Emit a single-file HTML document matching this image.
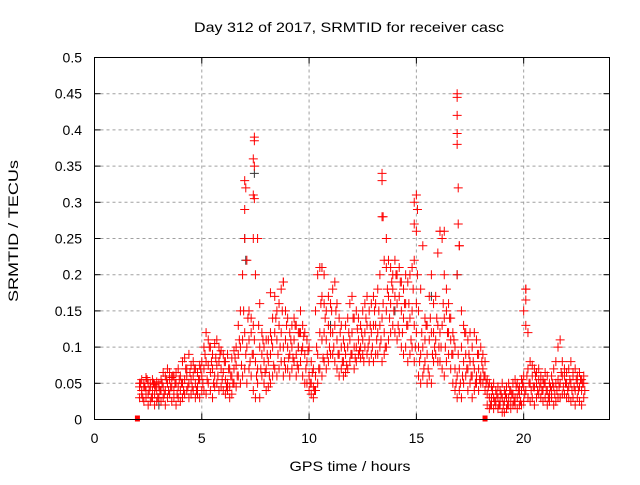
<!DOCTYPE html>
<html><head><meta charset="utf-8"><style>
body{margin:0;background:#fff;}
svg text{font-family:"Liberation Sans",sans-serif;fill:#000;}
</style></head><body>
<svg id="chart" width="640" height="480" viewBox="0 0 640 480">
<text x="349" y="32" font-size="14" text-anchor="middle" textLength="310" lengthAdjust="spacingAndGlyphs">Day 312 of 2017, SRMTID for receiver casc</text>
<text x="0" y="0" font-size="14" text-anchor="middle" textLength="142" lengthAdjust="spacingAndGlyphs" transform="translate(18,231) rotate(-90)">SRMTID / TECUs</text>
<text x="350" y="471" font-size="14" text-anchor="middle" textLength="121" lengthAdjust="spacingAndGlyphs">GPS time / hours</text>
<g id="grid"></g><g id="ticks"></g><g id="marks"></g>
<rect x="94.5" y="57.5" width="515" height="362" fill="none" stroke="#000" stroke-width="1"/>
</svg>
<script>
const xTicks=[0,5,10,15,20];
const yTicks=[0,0.05,0.1,0.15,0.2,0.25,0.3,0.35,0.4,0.45,0.5];
const yTickLabels=["0","0.05","0.1","0.15","0.2","0.25","0.3","0.35","0.4","0.45","0.5"];
const tStart=2.1, tStep=0.1;
const lo=[.03,.035,.025,.03,.02,.025,.03,.02,.025,.03,
.025,.03,.02,.03,.035,.025,.03,.02,.03,.025,
.03,.035,.04,.03,.035,.04,.03,.035,.03,.04,
.04,.035,.05,.04,.03,.045,.05,.04,.045,.04,
.035,.04,.03,.035,.05,.045,.06,.05,.06,.07,
.05,.07,.06,.04,.03,.05,.03,.06,.05,.04,
.045,.05,.06,.07,.06,.07,.08,.06,.07,.07,
.06,.07,.08,.06,.07,.08,.06,.05,.05,.04,
.035,.03,.04,.05,.07,.06,.08,.07,.08,.09,
.09,.08,.07,.06,.07,.06,.065,.07,.08,.09,
.07,.08,.09,.085,.09,.1,.09,.08,.09,.08,
.09,.09,.1,.08,.09,.1,.11,.12,.13,.12,
.11,.12,.1,.09,.1,.08,.09,.1,.08,.12,
.06,.05,.06,.08,.05,.06,.05,.08,.09,.08,
.08,.07,.06,.08,.09,.07,.05,.04,.03,.04,
.03,.05,.06,.04,.05,.03,.04,.05,.04,.05,
.05,.04,.02,.015,.02,.015,.02,.015,.02,.01,
.01,.015,.02,.015,.02,.02,.015,.02,.02,.025,
.04,.03,.025,.03,.02,.03,.035,.03,.025,.03,
.02,.025,.03,.02,.025,.03,.03,.035,.035,.03,
.03,.025,.03,.02,.03,.025,.02,.03];
const mid=[.045,.04,.05,.04,.035,.045,.04,.035,.04,.045,
.04,.045,.04,.05,.055,.045,.04,.05,.045,.04,
.05,.055,.06,.05,.055,.06,.05,.045,.055,.06,
.07,.08,.075,.065,.07,.06,.075,.08,.07,.065,
.055,.05,.045,.06,.07,.075,.09,.1,.11,.12,
.1,.11,.12,.09,.08,.07,.1,.09,.08,.07,
.08,.09,.1,.12,.11,.13,.12,.1,.11,.1,
.09,.1,.11,.09,.1,.12,.1,.09,.08,.06,
.05,.045,.06,.09,.12,.11,.12,.11,.13,.12,
.12,.13,.11,.09,.1,.08,.09,.1,.11,.12,
.1,.1,.11,.1,.11,.12,.13,.11,.12,.13,
.13,.12,.13,.14,.12,.15,.17,.16,.18,.17,
.16,.17,.15,.14,.16,.13,.14,.15,.13,.16,
.1,.09,.1,.11,.09,.11,.12,.12,.11,.13,
.12,.13,.14,.15,.12,.11,.09,.07,.06,.07,
.1,.08,.09,.07,.08,.06,.07,.06,.07,.06,
.07,.06,.035,.03,.03,.03,.025,.03,.025,.03,
.025,.03,.03,.025,.035,.03,.03,.035,.04,.045,
.13,.07,.05,.06,.045,.05,.055,.05,.04,.05,
.04,.035,.04,.045,.05,.055,.05,.06,.06,.05,
.045,.05,.06,.04,.05,.045,.04,.05];
const hi=[.05,.055,.045,.058,.05,.05,.055,.048,.052,.05,
.055,.065,.06,.07,.065,.058,.06,.065,.07,.06,
.08,.085,.07,.09,.075,.08,.07,.065,.075,.08,
.1,.12,.11,.1,.09,.105,.11,.1,.095,.09,
.08,.09,.07,.085,.095,.1,.13,.15,.2,.25,
.22,.15,.14,.13,.2,.25,.16,.12,.1,.11,
.11,.12,.14,.17,.15,.16,.18,.19,.15,.14,
.12,.13,.14,.13,.12,.15,.13,.12,.11,.1,
.08,.07,.15,.2,.21,.17,.16,.15,.17,.16,
.18,.19,.16,.14,.13,.11,.13,.14,.16,.17,
.14,.15,.14,.13,.15,.16,.17,.15,.16,.17,
.16,.18,.2,.28,.22,.21,.22,.21,.2,.22,
.2,.21,.19,.18,.2,.19,.2,.21,.22,.26,
.15,.18,.24,.14,.13,.17,.2,.16,.17,.23,
.26,.25,.2,.18,.16,.14,.12,.1,.2,.24,
.15,.13,.12,.11,.12,.1,.12,.11,.09,.1,
.09,.08,.055,.05,.045,.05,.04,.045,.04,.05,
.04,.045,.05,.04,.05,.055,.05,.045,.055,.06,
.18,.12,.08,.075,.07,.065,.07,.06,.055,.065,
.06,.05,.06,.07,.08,.1,.11,.08,.07,.065,
.07,.08,.065,.07,.06,.065,.055,.06];
const half=[.05,.03,.045,.055,.04,.03,.05,.045,.03,.04,
.05,.035,.055,.04,.045,.06,.05,.035,.055,.05,
.04,.07,.045,.065,.045,.07,.04,.055,.07,.05,
.09,.055,.1,.08,.05,.085,.06,.09,.055,.08,
.045,.07,.06,.05,.085,.06,.11,.075,.15,.09,
.14,.08,.09,.11,.06,.13,.07,.11,.065,.09,
.06,.11,.075,.14,.09,.1,.15,.08,.13,.085,
.11,.085,.13,.075,.12,.095,.115,.07,.095,.05,
.065,.04,.1,.07,.16,.085,.14,.09,.1,.15,
.1,.15,.09,.12,.08,.1,.075,.12,.09,.14,
.085,.125,.095,.12,.08,.14,.1,.13,.1,.15,
.11,.15,.11,.16,.1,.18,.14,.19,.15,.2,
.13,.19,.12,.16,.13,.16,.11,.18,.1,.2,
.08,.12,.07,.13,.07,.14,.09,.1,.14,.1,
.1,.16,.1,.12,.14,.09,.11,.05,.09,.05,
.06,.12,.07,.09,.06,.08,.05,.09,.055,.08,
.06,.05,.045,.02,.04,.025,.035,.02,.035,.02,
.035,.02,.04,.035,.025,.045,.04,.025,.05,.035,
.06,.05,.04,.045,.06,.04,.045,.04,.05,.04,
.03,.045,.05,.035,.04,.045,.065,.045,.05,.04,
.055,.04,.045,.055,.04,.055,.05,.04];
const spikeTimes=[7.0,7.05,7.0,7.45,7.45,7.4,7.45,7.4,7.45,7.4,13.4,13.4,13.45,13.6,15.0,14.9,15.05,14.9,16.9,16.9,16.9,16.9,16.9,16.95,16.95,17.0,16.3,16.1,20.1,20.1,20.0,8.8,8.2,10.7,10.6];
const spikeValues=[.33,.32,.29,.39,.385,.36,.35,.31,.305,.25,.34,.33,.28,.25,.31,.30,.29,.27,.45,.445,.42,.395,.38,.32,.27,.24,.26,.26,.18,.165,.15,.19,.175,.2,.21];
const blackTimes=[7.0,7.05,7.45,10.6,16.9,15.7,11.0,14.0,9.5,3.0];
const blackValues=[.25,.22,.34,.21,.2,.17,.13,.15,.1,.02];
const gapTimes=[2.0,18.2];

const X=t=>94.5+t*(515/24);
const Y=v=>419.5-v*(362/0.5);
const NS="http://www.w3.org/2000/svg";
const grid=document.getElementById('grid'),ticks=document.getElementById('ticks'),marks=document.getElementById('marks');
function mk(tag,attrs,parent){const e=document.createElementNS(NS,tag);for(const k in attrs)e.setAttribute(k,attrs[k]);parent.appendChild(e);return e;}
xTicks.forEach(t=>{
  const x=X(t);
  if(t>0){const g=mk('line',{x1:x,y1:57.5,x2:x,y2:419.5,stroke:'#a0a0a0','stroke-dasharray':'3,3'},grid);
  
  }
  mk('line',{x1:x,y1:419.5,x2:x,y2:413.5,stroke:'#000'},ticks);
  mk('line',{x1:x,y1:57.5,x2:x,y2:63.5,stroke:'#000'},ticks);
  const l=mk('text',{x:x,y:443,'font-size':14,'text-anchor':'middle'},ticks);l.textContent=String(t);
  
  
});
yTicks.forEach((v,i)=>{
  const y=Y(v);
  if(v>0&&v<0.5){const g=mk('line',{x1:94.5,y1:y,x2:609.5,y2:y,stroke:'#a0a0a0','stroke-dasharray':'3,3'},grid);
  
  }
  mk('line',{x1:94.5,y1:y,x2:100.5,y2:y,stroke:'#000'},ticks);
  mk('line',{x1:609.5,y1:y,x2:603.5,y2:y,stroke:'#000'},ticks);
  const l=mk('text',{x:82,y:y+5,'font-size':14,'text-anchor':'end'},ticks);l.textContent=yTickLabels[i];
  
  
});
function plus(t,v,color,name){
  const x=X(t),y=Y(v);
  const p=mk('path',{d:`M${x-4.5} ${y}H${x+4.5}M${x} ${y-4.5}V${y+4.5}`,stroke:color,'stroke-width':1,fill:'none'},marks);
  
  
}
blackTimes.forEach((t,i)=>plus(t,blackValues[i],'#333','black-point'));
[lo,mid,hi].forEach(arr=>arr.forEach((v,i)=>plus(tStart+i*tStep,v,'#f00','red-point')));
half.forEach((v,i)=>plus(tStart+0.05+i*tStep,v,'#f00','red-point'));
spikeTimes.forEach((t,i)=>plus(t,spikeValues[i],'#f00','spike-point'));
gapTimes.forEach(t=>{
  const r=mk('rect',{x:X(t)-2.5,y:415.5,width:5,height:6,fill:'#f00'},marks);
  
  
});
</script>
</body></html>
